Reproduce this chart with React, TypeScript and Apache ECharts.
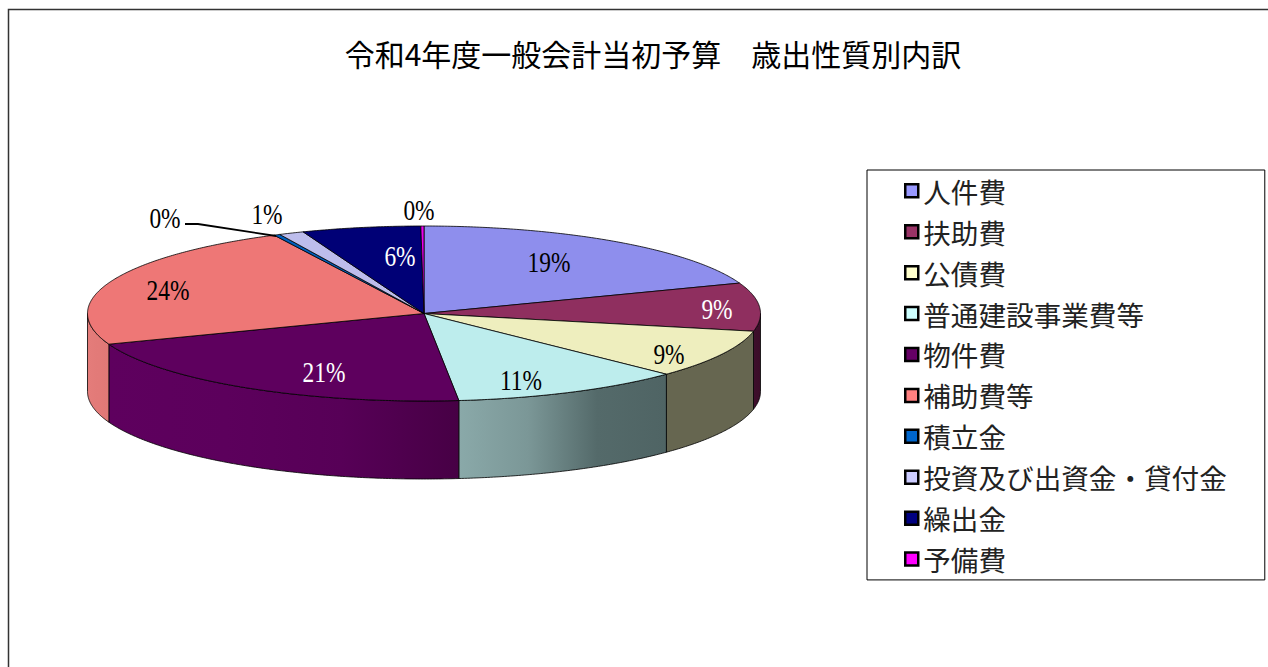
import React, { useEffect, useRef } from "react";
import * as echarts from "echarts";

const categories = ["人件費", "扶助費", "公債費", "普通建設事業費等", "物件費", "補助費等", "積立金", "投資及び出資金・貸付金", "繰出金", "予備費"];
const shares = [19.35, 8.9, 8.95, 11.15, 20.95, 23.35, 0.3, 1.2, 5.7, 0.15];
const percentLabels = ["19%", "9%", "9%", "11%", "21%", "24%", "0%", "1%", "6%", "0%"];
const titleText = "令和4年度一般会計当初予算　歳出性質別内訳";

const legendColors = ["#9999FF", "#993366", "#FFFFCC", "#CCFFFF", "#660066", "#FF8080", "#0066CC", "#CCCCFF", "#000080", "#FF00FF"];
const topColors = ["#8e8eed", "#8f2f5f", "#eeeebe", "#bdeded", "#5e005e", "#ee7776", "#005fbd", "#bdbdec", "#000076", "#ed00ed"];
const wallStops: (string[] | null)[] = [
  null,
  ["#3f0f2c", "#3a0d28"],
  ["#666650", "#666650"],
  ["#8aa9a9", "#7b9797", "#546a6a", "#4f6464"],
  ["#5e005e", "#5c005c", "#570057", "#470045"],
  ["#e47c7a", "#e07876"],
  null, null, null, null,
];
const labelCenters = [[549, 262], [717, 309], [669, 354], [521, 380], [324, 372], [168, 290], [165, 218], [267, 214], [400, 256], [419, 210]];
const labelColors = ["#000", "#fff", "#000", "#000", "#fff", "#000", "#000", "#000", "#fff", "#000"];
const leaderLine = [[185, 224], [198, 224], [276, 236]];

const CX = 424, CY = 313.5, RX = 336.5, RY = 87.5, DEPTH = 78;

const total = shares.reduce((a, b) => a + b, 0);
const startAngles: number[] = [];
shares.reduce((acc, v, i) => {
  startAngles[i] = acc;
  return acc + (v / total) * 360;
}, 0);

const pt = (deg: number, dy = 0): number[] => {
  const r = (deg * Math.PI) / 180;
  return [CX + RX * Math.sin(r), CY - RY * Math.cos(r) + dy];
};
const arc = (a: number, b: number, dy = 0): number[][] => {
  const n = Math.max(2, Math.ceil((b - a) / 0.5));
  const out: number[][] = [];
  for (let i = 0; i <= n; i++) out.push(pt(a + ((b - a) * i) / n, dy));
  return out;
};

function renderSlice(i: number) {
  const a = startAngles[i];
  const b = a + (shares[i] / total) * 360;
  const children: any[] = [];
  const stops = wallStops[i];
  const wa = Math.max(a, 90), wb = Math.min(b, 270);
  if (stops && wb > wa) {
    const pts = [...arc(wa, wb), ...arc(wa, wb, DEPTH).reverse()];
    children.push({
      type: "polygon",
      shape: { points: pts },
      style: {
        fill: new echarts.graphic.LinearGradient(0, 0, 1, 0, stops.map((c, k) => ({ offset: k / (stops.length - 1), color: c }))),
        stroke: "#000",
        lineWidth: 0.8,
      },
    });
  }
  children.push({
    type: "polygon",
    shape: { points: [[CX, CY], ...arc(a, b)] },
    style: { fill: topColors[i], stroke: "#000", lineWidth: 0.8, lineJoin: "round" },
    z2: 2,
  });
  const [lx, ly] = labelCenters[i];
  children.push({
    type: "text",
    x: lx,
    y: ly,
    scaleX: 0.78,
    z2: 20,
    style: {
      text: percentLabels[i],
      fill: labelColors[i],
      font: '30px "Liberation Serif"',
      align: "center",
      verticalAlign: "middle",
    },
  });
  if (i === 6) {
    children.push({
      type: "polyline",
      shape: { points: leaderLine },
      z2: 19,
      style: { fill: "none", stroke: "#000", lineWidth: 1.8 },
    });
  }
  return { type: "group", children };
}

export default function App() {
  const ref = useRef<HTMLDivElement>(null);
  useEffect(() => {
    document.body.style.margin = "0";
    document.body.style.overflow = "hidden";
    const chart = echarts.init(ref.current!, null, { renderer: "svg" });
    chart.setOption({
      animation: false,
      backgroundColor: "#fff",
      title: {
        text: titleText,
        left: 648,
        top: 33,
        textAlign: "center",
        textStyle: { fontFamily: '"Noto Sans CJK JP"', fontSize: 30, fontWeight: "normal", color: "#000" },
      },
      legend: {
        orient: "vertical",
        left: 867,
        top: 170,
        padding: [7, 38, 7, 37],
        itemWidth: 13,
        itemHeight: 13,
        itemGap: 13.33,
        icon: "rect",
        selectedMode: false,
        borderColor: "#000",
        borderWidth: 1,
        itemStyle: { borderColor: "#000", borderWidth: 2.5 },
        textStyle: { fontFamily: '"Noto Sans CJK JP"', fontSize: 27.6, lineHeight: 27, color: "#222" },
        data: categories,
      },
      graphic: [
        {
          type: "rect",
          shape: { x: 8.5, y: 9.5, width: 1400, height: 800 },
          style: { fill: "none", stroke: "#333", lineWidth: 1.5 },
          silent: true,
        },
      ],
      series: categories.map((name, i) => ({
        type: "custom",
        name,
        coordinateSystem: "none",
        silent: true,
        itemStyle: { color: legendColors[i] },
        data: [[shares[i]]],
        renderItem: () => renderSlice(i),
      })),
    });
    return () => chart.dispose();
  }, []);
  return <div ref={ref} style={{ width: 1268, height: 667 }} />;
}
